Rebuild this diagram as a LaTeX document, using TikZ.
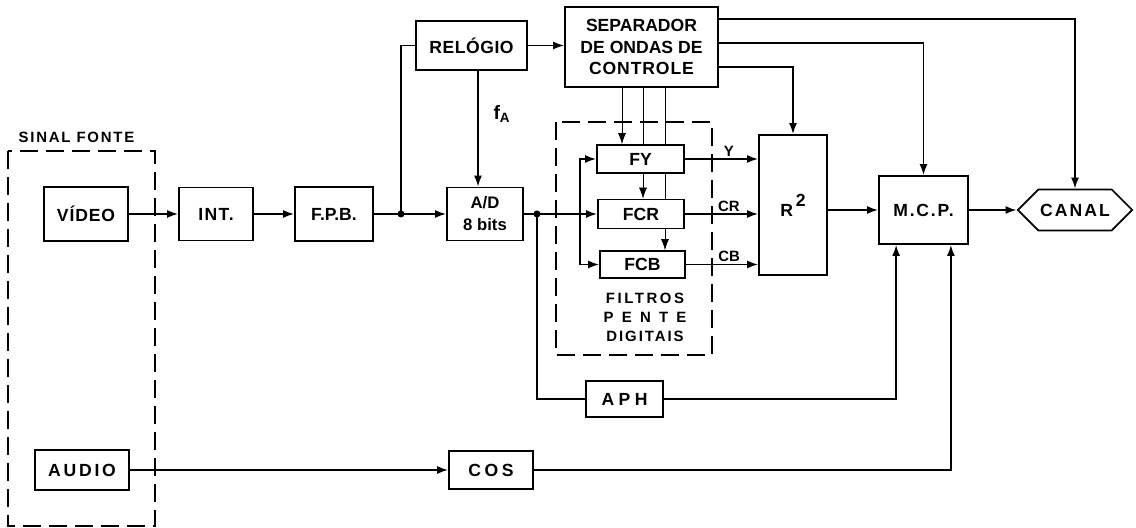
\documentclass[tikz,border=0pt]{standalone}
\usepackage{fontspec}
\setmainfont{Liberation Sans}
\usetikzlibrary{arrows.meta,positioning,calc,backgrounds,shapes.symbols}
\newcommand\trk[2]{{\addfontfeature{LetterSpace=#1}#2}}

\begin{document}
\begin{tikzpicture}[
  x=0.2mm, y=-0.2mm, line width=1pt,
  font=\bfseries\fontsize{10}{12}\selectfont,
  box/.style={draw, fill=white, align=center, inner sep=1pt},
  grp/.style={draw, line width=1.1pt, dash pattern=on 3.6mm off 1.6mm},
  lbl/.style={font=\bfseries\fontsize{8.5}{10.8}\selectfont, inner sep=1pt},
  ar/.style={-{Latex[length=2.2mm,width=1.6mm]}}]

\useasboundingbox (0,0) rectangle (1136,528);

% source signal
\node[box, minimum width=16.8mm, minimum height=10.8mm] (video) at (86,214) {\trk{5}{VÍDEO}};
\node[box, minimum width=18.8mm, minimum height=8mm]    (audio) at (82,470) {\trk{16}{AUDIO}};

% video chain
\node[box, minimum width=14.8mm, minimum height=10.6mm] (int) at (216,214) {\trk{8}{INT.}};
\node[box, minimum width=15.6mm, minimum height=10.8mm] (fpb) at (334,214) {F.P.B.};
\node[box, minimum width=15.2mm, minimum height=10.6mm,
      font=\bfseries\fontsize{9.5}{12.5}\selectfont] (ad) at (485,214) {A/D\\8 bits};
\node[box, minimum width=22.2mm, minimum height=9.8mm]  (rel) at (471.5,45.5) {\trk{3}{RELÓGIO}};
\node[box, minimum width=30.6mm, minimum height=16mm]   (sep) at (641.5,47)
  {SEPARADOR\\DE ONDAS DE\\\trk{5}{CONTROLE}};

\coordinate (jun1) at (401,214);
\coordinate (jun2) at (537,214);
\coordinate (br)   at (580,214);

% comb filters
\node[box, minimum width=17.4mm, minimum height=5.6mm] (fy)  at (640.5,159)   {FY};
\node[box, minimum width=17.2mm, minimum height=5.8mm] (fcr) at (641,214)     {FCR};
\node[box, minimum width=17mm,   minimum height=5.4mm] (fcb) at (642.5,264.5) {FCB};

\node[box, minimum width=13.6mm, minimum height=28mm]   (r2)  at (793,205) {R\,\raisebox{1.1ex}{2}};
\node[box, minimum width=17.8mm, minimum height=13.6mm] (mcp) at (923.5,210) {\trk{10}{M.C.P.}};
\node[draw, fill=white, signal, signal to=east and west, minimum width=22mm,
      minimum height=8.2mm, inner sep=1pt] (canal) at (1075,210) {\trk{12}{CANAL}};

\node[box, minimum width=15.4mm, minimum height=7.2mm] (aph) at (624.5,399) {\trk{25}{APH}};
\node[box, minimum width=16.8mm, minimum height=7.6mm] (cos) at (491,470)   {\trk{20}{COS}};

% groups
\draw[grp] (8,151) rectangle (155,526);
\draw[grp] (556,122) rectangle (712,355);
\node[lbl, anchor=base west] (sinal) at (16,143) {\trk{12}{SINAL FONTE}};
\node[lbl, align=center] (filt) at (645,317)
  {\trk{17}{FILTROS}\\\trk{55}{PENTE}\\\trk{13}{DIGITAIS}};

% connections
\draw[ar] (video) -- (int);
\draw[ar] (int) -- (fpb);
\draw (fpb) -- (jun1);
\draw[ar] (jun1) -- (ad);
\draw (jun1) |- (rel.west);
\draw[ar] (rel.east) -- (rel.east -| sep.west);
\draw[ar] ($(rel.south)+(6.5,0)$) -- node[right=5pt, pos=0.37, font=\bfseries\fontsize{11}{13}\selectfont] (fa)
  {f\textsubscript{A}} ($(ad.north)+(-7,0)$);
\draw (ad) -- (jun2);
\draw[ar] (jun2) -- (fcr);
\draw[ar] (br) |- (fy.west);
\draw[ar] (br) |- (fcb.west);
\begin{scope}[on background layer]
\coordinate (t1) at ($(sep.south)+(-19.5,0)$);
\coordinate (t2) at ($(sep.south)+(1.5,0)$);
\coordinate (t3) at ($(sep.south)+(23.5,0)$);
\draw[ar] (t1) -- (t1 |- fy.north);
\draw[ar] (t2) -- (t2 |- fcr.north);
\draw[ar] (t3) -- (t3 |- fcb.north);
\end{scope}
\draw[ar] (fy.east)  -- node[lbl, above, pos=0.6] (ly)  {Y}  (fy.east -| r2.west);
\draw[ar] (fcr.east) -- node[lbl, above, pos=0.6] (lcr) {CR} (fcr.east -| r2.west);
\draw[ar] (fcb.east) -- node[lbl, above, pos=0.6] (lcb) {CB} (fcb.east -| r2.west);
\draw[ar] ($(sep.east)+(0,-28)$) -| (canal.north);
\draw[ar] ($(sep.east)+(0,-4)$) -| (mcp.north);
\draw[ar] ($(sep.east)+(0,20)$) -| (r2.north);
\draw[ar] (r2.east |- mcp.west) -- (mcp.west);
\draw[ar] (mcp) -- (canal);
\draw (jun2) |- (aph.west);
\draw[ar] (aph.east) -| ($(mcp.south west)+(18,0)$);
\draw[ar] (audio) -- (cos);
\draw[ar] (cos.east) -| ($(mcp.south east)+(-18,0)$);
\fill (jun1) circle (0.7mm);
\fill (jun2) circle (0.7mm);
\end{tikzpicture}
\end{document}
